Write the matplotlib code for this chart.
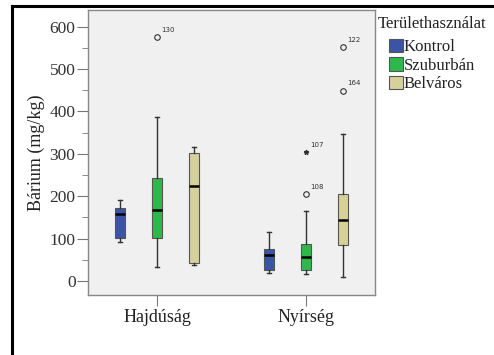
import matplotlib
matplotlib.use("Agg")
import matplotlib.pyplot as plt
from matplotlib.patches import Patch
from matplotlib.lines import Line2D

regions = ["Hajdúság", "Nyírség"]
landuse = ["Kontrol", "Szuburbán", "Belváros"]
colors = ["#3b55a6", "#2fb84a", "#d6d09a"]

# box statistics per region, per land use: [whislo, q1, med, q3, whishi]
hajdusag_stats = [[92, 102, 157, 173, 191],
                  [32, 102, 167, 242, 386],
                  [37, 42, 224, 303, 316]]
nyirseg_stats = [[19, 26, 62, 76, 116],
                 [16, 26, 57, 87, 165],
                 [9, 85, 143, 205, 346]]
# outliers: (region index, landuse index, value, label, kind)
outliers = [(0, 1, 575, "130", "o"),
            (1, 1, 205, "108", "o"),
            (1, 1, 304, "107", "*"),
            (1, 2, 551, "122", "o"),
            (1, 2, 448, "164", "o")]

plt.rcParams['font.family'] = ['Liberation Serif', 'DejaVu Serif']

fig = plt.figure(figsize=(4.94, 3.55), dpi=100)
ax = fig.add_axes([88/494, 1-295/355, (375-88)/494, (295-10)/355])
ax.set_facecolor("#f0f0f0")

offset = 0.247
width = 0.068
all_stats = [hajdusag_stats, nyirseg_stats]
for gi, grp in enumerate(all_stats):
    for li, s in enumerate(grp):
        pos = gi + (li - 1) * offset
        st = dict(whislo=s[0], q1=s[1], med=s[2], q3=s[3], whishi=s[4], fliers=[])
        ax.bxp([st], positions=[pos], widths=width, patch_artist=True,
               showfliers=False,
               boxprops=dict(facecolor=colors[li], edgecolor="#555555", linewidth=0.8),
               medianprops=dict(color="black", linewidth=1.8),
               whiskerprops=dict(color="#333333", linewidth=1.0),
               capprops=dict(color="#333333", linewidth=1.0),
               capwidths=width * 0.45, manage_ticks=False)

for gi, li, v, lab, kind in outliers:
    pos = gi + (li - 1) * offset
    if kind == "o":
        ax.plot(pos, v, marker="o", markersize=4, markerfacecolor="none",
                markeredgecolor="#333333", markeredgewidth=0.8, linestyle="none")
    else:
        ax.plot(pos, v, marker="*", markersize=3.5, color="#333333", linestyle="none")
    ax.annotate(lab, (pos, v), xytext=(3, 4), textcoords="offset points",
                fontsize=5, family="DejaVu Sans", color="#333333")

ax.set_xlim(-0.463, 1.463)
ax.set_ylim(-33, 639)
ax.set_xticks([0, 1])
ax.set_xticklabels(regions)
ax.set_yticks([0, 100, 200, 300, 400, 500, 600])
ax.set_yticks([50, 150, 250, 350, 450, 550], minor=True)
ax.tick_params(axis="y", which="major", length=8, color="#777777", labelsize=12.5,
               labelcolor="#333333", pad=1)
ax.tick_params(axis="y", which="minor", length=4.5, color="#777777")
ax.tick_params(axis="x", length=8, color="#777777", labelsize=13,
               labelcolor="#222222", pad=2)
for sp in ax.spines.values():
    sp.set_color("#888888")
    sp.set_linewidth(1.0)
ax.set_ylabel("Bárium (mg/kg)", fontsize=13, color="#222222", labelpad=3)

fig.text(378/494, 1-24/355, "Területhasználat", fontsize=12, color="#222222",
         ha="left", va="center")
handles = [Patch(facecolor=c, edgecolor="#555555", linewidth=0.8) for c in colors]
leg = fig.legend(handles, landuse, loc="upper left",
                 bbox_to_anchor=(389/494, 1-39/355), frameon=False, fontsize=12,
                 handlelength=0.85, handleheight=0.85,
                 handletextpad=0.05, labelspacing=0.12, borderaxespad=0,
                 borderpad=0)
for t in leg.get_texts():
    t.set_color("#222222")

# figure frame lines (top and left)
fig.add_artist(Line2D([12/494, 1], [1-6/355, 1-6/355], color="black", linewidth=2.2,
                      transform=fig.transFigure))
fig.add_artist(Line2D([12/494, 12/494], [0, 1-6/355], color="black", linewidth=2.2,
                      transform=fig.transFigure))

fig.savefig("out.png", dpi=100)
